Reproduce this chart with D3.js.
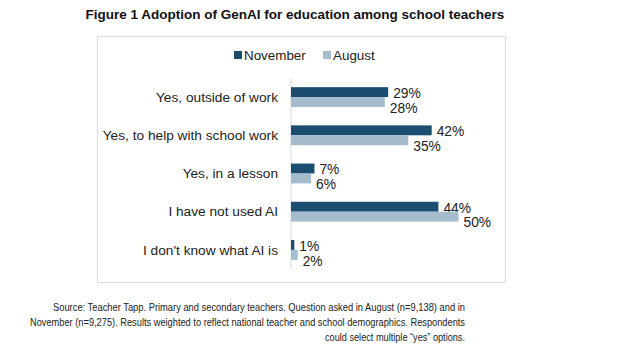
<!DOCTYPE html>
<html><head><meta charset="utf-8">
<script src="https://cdn.jsdelivr.net/npm/d3@7"></script>
<style>body{margin:0;background:#fff}</style>
</head><body>
<svg id="c" width="638" height="361"></svg>
<script>
const categories = ["Yes, outside of work","Yes, to help with school work","Yes, in a lesson","I have not used AI","I don't know what AI is"];
const seriesNames = ["November","August"];
const november = [29,42,7,44,1];
const august = [28,35,6,50,2];
const title = "Figure 1 Adoption of GenAI for education among school teachers";
const sourceLines = ["Source: Teacher Tapp. Primary and secondary teachers. Question asked in August (n=9,138) and in",
 "November (n=9,275). Results weighted to reflect national teacher and school demographics. Respondents",
 "could select multiple \u201cyes\u201d options."];
const colors = ["#1b4d70","#a4bccc"];

const svg = d3.select("#c");
const font = "'Liberation Sans', Arial, sans-serif";

svg.append("text").attr("x",295).attr("y",18.5).attr("text-anchor","middle")
  .attr("font-family",font).attr("font-weight","bold").attr("font-size",13.5).attr("fill","#111").text(title);

// frame
svg.append("rect").attr("x",97.5).attr("y",36.5).attr("width",408).attr("height",246)
  .attr("fill","none").attr("stroke","#dcdcdc");

const x = d3.scaleLinear().domain([0,50]).range([291,458.5]);
const y = d3.scaleBand().domain(categories).range([78,269]).paddingInner(0.48).paddingOuter(0.24);
const inner = d3.scaleBand().domain(seriesNames).range([0,y.bandwidth()]);

// axis line
svg.append("line").attr("x1",291).attr("x2",291).attr("y1",y.range()[0]).attr("y2",y.range()[1])
  .attr("stroke","#d9d9d9");

const data = [november, august];
seriesNames.forEach((s,si)=>{
  const g = svg.append("g");
  g.selectAll("rect").data(data[si]).join("rect")
    .attr("x",x(0)).attr("y",(d,i)=>y(categories[i])+inner(s))
    .attr("width",d=>x(d)-x(0)).attr("height",inner.bandwidth()).attr("fill",colors[si]);
  g.selectAll("text").data(data[si]).join("text")
    .attr("x",d=>x(d)+5)
    .attr("y",(d,i)=>y(categories[i])+inner(s)+inner.bandwidth()/2+(si===0?1:6))
    .attr("dy","0.35em")
    .attr("font-family",font).attr("font-size",13.8).attr("fill","#222").text(d=>d+"%");
});

// category labels
svg.append("g").selectAll("text").data(categories).join("text")
  .attr("x",278).attr("y",d=>y(d)+y.bandwidth()/2).attr("dy","0.35em").attr("text-anchor","end")
  .attr("font-family",font).attr("font-size",13.7).attr("fill","#222").text(d=>d);

// legend
const leg = svg.append("g");
const legX = [234,323];
seriesNames.forEach((s,i)=>{
  leg.append("rect").attr("x",legX[i]).attr("y",51).attr("width",8).attr("height",8).attr("fill",colors[i]);
  leg.append("text").attr("x",legX[i]+10).attr("y",55).attr("dy","0.35em")
    .attr("font-family",font).attr("font-size",13.4).attr("fill","#222").text(s);
});

// source
const srcLen = [412,435,140];
svg.append("g").selectAll("text").data(sourceLines).join("text")
  .attr("x",465).attr("y",(d,i)=>307+i*15).attr("dy","0.35em").attr("text-anchor","end")
  .attr("font-family",font).attr("font-size",11)
  .attr("textLength",(d,i)=>srcLen[i]).attr("lengthAdjust","spacingAndGlyphs")
  .attr("fill","#222").text(d=>d);
</script>
</body></html>
